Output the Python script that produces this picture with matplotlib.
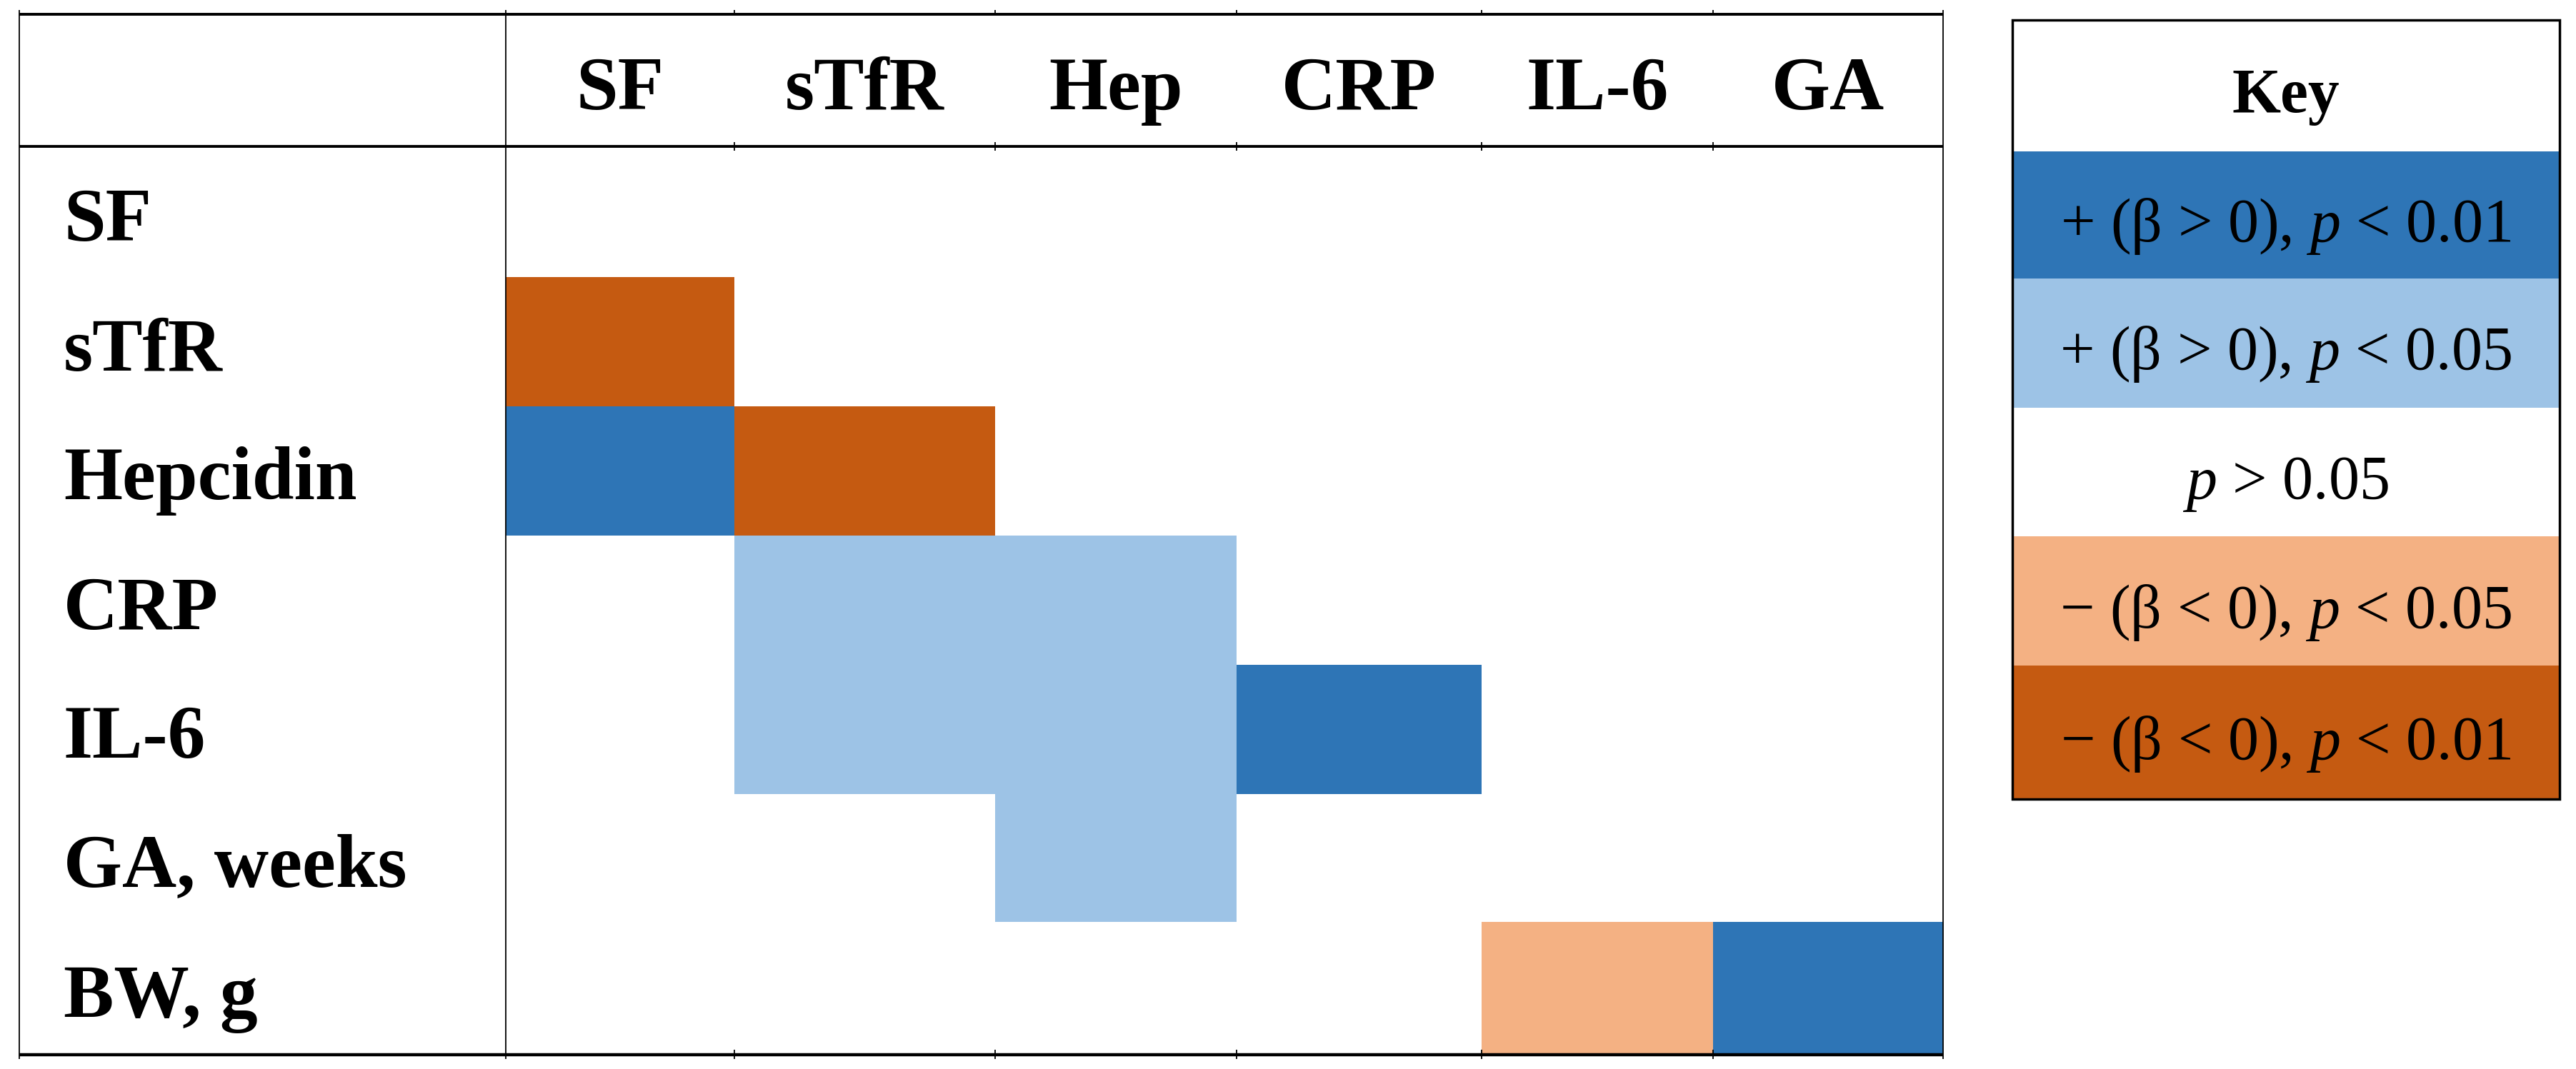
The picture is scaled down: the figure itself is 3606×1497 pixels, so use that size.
import numpy as np
import matplotlib
matplotlib.use("Agg")
from matplotlib import pyplot as plt
from matplotlib.colors import ListedColormap, BoundaryNorm
from matplotlib.patches import Rectangle

plt.rcParams['font.family'] = ['Liberation Serif', 'DejaVu Serif']
plt.rcParams['mathtext.fontset'] = 'custom'
plt.rcParams['mathtext.rm'] = 'Liberation Serif'
plt.rcParams['mathtext.it'] = 'Liberation Serif:italic'

# --- data ---
row_labels = ["SF", "sTfR", "Hepcidin", "CRP", "IL-6", "GA, weeks", "BW, g"]
col_labels = ["SF", "sTfR", "Hep", "CRP", "IL-6", "GA"]
# 2: + p<0.01, 1: + p<0.05, 0: p>0.05, -1: - p<0.05, -2: - p<0.01
sig_sf = [0, 0, 0, 0, 0, 0]
sig_stfr = [-2, 0, 0, 0, 0, 0]
sig_hep = [2, -2, 0, 0, 0, 0]
sig_crp = [0, 1, 1, 0, 0, 0]
sig_il6 = [0, 1, 1, 2, 0, 0]
sig_ga = [0, 0, 1, 0, 0, 0]
sig_bw = [0, 0, 0, 0, -1, 2]

key_levels = [2, 1, 0, -1, -2]
key_labels = [r"+ (β > 0), $p$ < 0.01",
              r"+ (β > 0), $p$ < 0.05",
              r"$p$ > 0.05",
              "\u2212 (β < 0), $p$ < 0.05",
              "\u2212 (β < 0), $p$ < 0.01"]

# colours for levels -2..2
level_colors = ['#C55A11', '#F4B183', '#FFFFFF', '#9DC3E6', '#2E75B6']

# --- layout (pixels) ---
W, H = 3606, 1497
table_left, table_top = 27, 20
col_edges = [708, 1028, 1393, 1731, 2074, 2398, 2720]
row_edges = [205, 388, 569, 750, 931, 1112, 1291, 1477]
key_x = [2817, 3583]
key_edges = [28, 212, 390, 571, 751, 932, 1119]

fig = plt.figure(figsize=(W / 100, H / 100), dpi=100)
ax = fig.add_axes([0, 0, 1, 1])
ax.set_xlim(0, W)
ax.set_ylim(H, 0)
ax.axis('off')

cmap = ListedColormap(level_colors)
norm = BoundaryNorm([-2.5, -1.5, -0.5, 0.5, 1.5, 2.5], cmap.N)

matrix = np.array([sig_sf, sig_stfr, sig_hep, sig_crp, sig_il6, sig_ga, sig_bw])
ax.pcolormesh(col_edges, row_edges, matrix, cmap=cmap, norm=norm,
              edgecolors='none', antialiased=False)

# table lines
lw_thick = 2.8
lw_thin = 1.3
ax.hlines([table_top, row_edges[0]], table_left, col_edges[-1], color='black', lw=lw_thick)
ax.hlines(row_edges[-1], table_left, col_edges[-1], color='black', lw=3.2)
ax.vlines([table_left, col_edges[0], col_edges[-1]], table_top - 6, row_edges[-1] + 6,
          color='black', lw=lw_thin)
# small ticks at column boundaries
ax.vlines(col_edges[1:-1], table_top - 6, table_top, color='black', lw=lw_thin)
ax.vlines(col_edges[1:-1], row_edges[0] - 6, row_edges[0] + 6, color='black', lw=lw_thin)
ax.vlines(col_edges[1:-1], row_edges[-1] - 7, row_edges[-1] + 6, color='black', lw=lw_thin)

# labels
fs = 76
for i, lab in enumerate(col_labels):
    xc = (col_edges[i] + col_edges[i + 1]) / 2
    yc = (table_top + row_edges[0]) / 2
    ax.text(xc, yc + 40, lab, ha='center', va='baseline', fontsize=fs, fontweight='bold')
for i, lab in enumerate(row_labels):
    yc = (row_edges[i] + row_edges[i + 1]) / 2
    ax.text(89, yc + 40, lab, ha='left', va='baseline', fontsize=fs, fontweight='bold')

# key
key_matrix = np.array(key_levels).reshape(-1, 1)
ax.pcolormesh(key_x, key_edges[1:], key_matrix, cmap=cmap, norm=norm,
              edgecolors='none', antialiased=False)
ax.add_patch(Rectangle((key_x[0], key_edges[0]), key_x[1] - key_x[0],
                       key_edges[-1] - key_edges[0], fill=False, ec='black', lw=2.5))
kxc = (key_x[0] + key_x[1]) / 2
ax.text(kxc, (key_edges[0] + key_edges[1]) / 2 + 37, "Key", ha='center', va='baseline',
        fontsize=63, fontweight='bold')
for i, lab in enumerate(key_labels):
    yc = (key_edges[i + 1] + key_edges[i + 2]) / 2
    ax.text(kxc, yc + 37, lab, ha='center', va='baseline', fontsize=62)

fig.savefig('out.png', dpi=100)
